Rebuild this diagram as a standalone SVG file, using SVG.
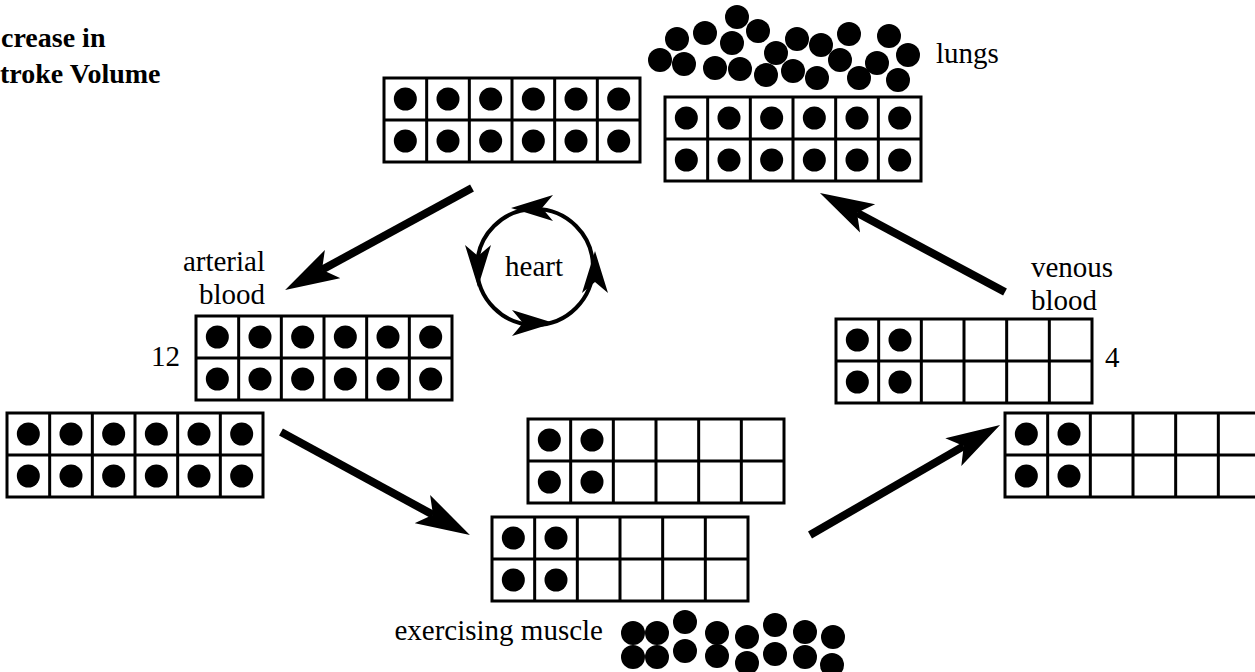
<svg xmlns="http://www.w3.org/2000/svg" xmlns:xlink="http://www.w3.org/1999/xlink" width="1255" height="672" viewBox="0 0 1255 672">
<style>
.t{font-family:"Liberation Serif","Times New Roman",serif;font-size:29px;fill:#000}
.tb{font-family:"Liberation Serif","Times New Roman",serif;font-size:28px;font-weight:bold;fill:#000}
.g{fill:none;stroke:#000;stroke-width:3}
.arr{stroke:#000;stroke-width:8;fill:none;marker-end:url(#ah)}
</style>
<defs>
<marker id="ah" markerUnits="userSpaceOnUse" markerWidth="54" markerHeight="34" viewBox="0 0 54 34" refX="12" refY="17" orient="auto">
<path d="M0,1 L54,17 L0,33 L12,17 Z" fill="#000"/>
</marker>
<g id="cells">
<rect class="g" x="0" y="0" width="256" height="84" fill="#fff"/>
<path class="g" d="M0,42H256M42.67,0V84M85.33,0V84M128,0V84M170.67,0V84M213.33,0V84"/>
</g>
<g id="dots2" fill="#000">
<circle cx="21.33" cy="21" r="11.5"/><circle cx="64" cy="21" r="11.5"/>
<circle cx="21.33" cy="63" r="11.5"/><circle cx="64" cy="63" r="11.5"/>
</g>
<g id="dots6">
<use xlink:href="#dots2"/>
<use xlink:href="#dots2" x="85.33"/>
<use xlink:href="#dots2" x="170.67"/>
</g>
<path id="hh" d="M0,0 L-42,-13 L-31,0 L-42,13 Z" fill="#000"/>
</defs>
<rect width="1255" height="672" fill="#fff"/>

<g id="title">
<text class="tb" x="1" y="47">crease in</text>
<text class="tb" x="0" y="83">troke Volume</text>
</g>

<g id="node-top"><g transform="translate(384,78)"><use xlink:href="#cells"/><use xlink:href="#dots6"/></g></g>

<g id="node-lungs">
<g fill="#000">
<circle cx="660" cy="60" r="12"/><circle cx="677" cy="39" r="12"/><circle cx="684" cy="64" r="12"/>
<circle cx="705" cy="33" r="12"/><circle cx="715" cy="68" r="12"/><circle cx="732" cy="43" r="12"/>
<circle cx="737" cy="17" r="12"/><circle cx="740" cy="69" r="12"/><circle cx="758" cy="31" r="12"/>
<circle cx="766" cy="75" r="12"/><circle cx="776" cy="53" r="12"/><circle cx="793" cy="71" r="12"/>
<circle cx="797" cy="39" r="12"/><circle cx="821" cy="45" r="12"/><circle cx="817" cy="78" r="12"/>
<circle cx="840" cy="60" r="12"/><circle cx="849" cy="34" r="12"/><circle cx="859" cy="78" r="12"/>
<circle cx="877" cy="63" r="12"/><circle cx="889" cy="36" r="12"/><circle cx="908" cy="55" r="12"/>
<circle cx="898" cy="80" r="12"/>
</g>
<text class="t" x="936" y="63">lungs</text>
<g transform="translate(665,97)"><use xlink:href="#cells"/><use xlink:href="#dots6"/></g>
</g>

<g id="node-heart">
<circle cx="535" cy="267" r="58" fill="none" stroke="#000" stroke-width="4"/>
<use xlink:href="#hh" transform="translate(511,208) rotate(180)"/>
<use xlink:href="#hh" transform="translate(478,287) rotate(90)"/>
<use xlink:href="#hh" transform="translate(554,323) rotate(0)"/>
<use xlink:href="#hh" transform="translate(595,251) rotate(-90)"/>
<text class="t" x="534" y="276" text-anchor="middle">heart</text>
</g>

<g id="node-arterial">
<text class="t" x="265" y="271" text-anchor="end">arterial</text>
<text class="t" x="265" y="304" text-anchor="end">blood</text>
<text class="t" x="180" y="366" text-anchor="end">12</text>
<g transform="translate(196,316)"><use xlink:href="#cells"/><use xlink:href="#dots6"/></g>
</g>

<g id="node-left"><g transform="translate(7,413)"><use xlink:href="#cells"/><use xlink:href="#dots6"/></g></g>

<g id="node-venous">
<text class="t" x="1031" y="277">venous</text>
<text class="t" x="1031" y="310">blood</text>
<text class="t" x="1105" y="367">4</text>
<g transform="translate(836,319)"><use xlink:href="#cells"/><use xlink:href="#dots2"/></g>
</g>

<g id="node-right"><g transform="translate(1005,413)"><use xlink:href="#cells"/><use xlink:href="#dots2"/></g></g>

<g id="node-mid"><g transform="translate(528,419)"><use xlink:href="#cells"/><use xlink:href="#dots2"/></g></g>

<g id="node-muscle">
<g transform="translate(492,517)"><use xlink:href="#cells"/><use xlink:href="#dots2"/></g>
<text class="t" x="603" y="640" text-anchor="end">exercising muscle</text>
<g fill="#000">
<circle cx="633" cy="633" r="12"/><circle cx="657" cy="633" r="12"/><circle cx="685" cy="622" r="12"/>
<circle cx="717" cy="633" r="12"/><circle cx="747" cy="637" r="12"/><circle cx="775" cy="625" r="12"/>
<circle cx="805" cy="632" r="12"/><circle cx="833" cy="637" r="12"/>
<circle cx="633" cy="657" r="12"/><circle cx="657" cy="657" r="12"/><circle cx="685" cy="651" r="12"/>
<circle cx="717" cy="656" r="12"/><circle cx="747" cy="663" r="12"/><circle cx="775" cy="654" r="12"/>
<circle cx="805" cy="657" r="12"/><circle cx="832" cy="665" r="12"/>
</g>
</g>

<g id="connectors">
<line class="arr" x1="472" y1="188" x2="322" y2="269.8"/>
<line class="arr" x1="281" y1="432" x2="433" y2="514.8"/>
<line class="arr" x1="810" y1="535" x2="963.7" y2="446.1"/>
<line class="arr" x1="1005" y1="292" x2="857" y2="212.8"/>
</g>
</svg>
